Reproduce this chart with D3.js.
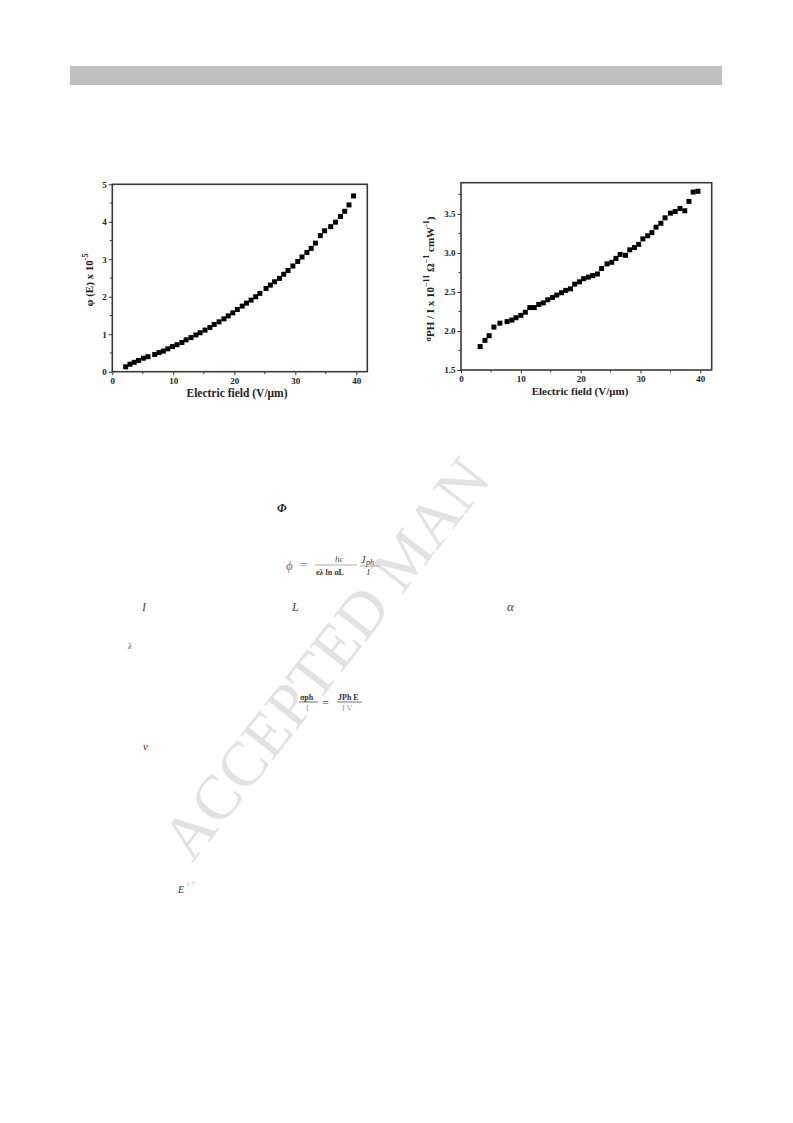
<!DOCTYPE html>
<html><head><meta charset="utf-8">
<script src="https://cdn.jsdelivr.net/npm/d3@7"></script>
<style>html,body{margin:0;padding:0;background:#fff;}</style>
</head><body>
<script>
// ---- data ----
const fieldA = [2.19,2.9,3.6,4.3,5.1,5.85,6.95,7.66,8.37,9.1,9.85,10.6,11.4,12.1,12.9,13.7,14.4,15.2,16.0,16.7,17.5,18.3,19.0,19.75,20.5,21.3,22.0,22.75,23.5,24.2,25.2,25.9,26.6,27.4,28.1,28.8,29.6,30.4,31.1,31.9,32.6,33.3,34.1,34.8,35.8,36.6,37.4,38.1,38.8,39.55];
const phiA = [0.13,0.2,0.25,0.30,0.36,0.40,0.46,0.51,0.55,0.61,0.67,0.72,0.78,0.85,0.91,0.98,1.04,1.11,1.18,1.26,1.33,1.41,1.49,1.57,1.66,1.75,1.83,1.91,2.0,2.09,2.22,2.31,2.40,2.49,2.60,2.70,2.82,2.94,3.06,3.18,3.29,3.43,3.63,3.76,3.87,3.99,4.14,4.28,4.45,4.69];
const fieldB = [3.2,4.0,4.7,5.5,6.5,7.7,8.5,9.2,10.0,10.75,11.5,12.25,13.0,13.75,14.5,15.3,16.0,16.8,17.5,18.3,19.0,19.8,20.5,21.3,22.0,22.8,23.5,24.4,25.2,25.9,26.6,27.5,28.2,29.0,29.7,30.4,31.2,31.9,32.6,33.4,34.1,35.0,35.8,36.6,37.4,38.1,38.8,39.6];
const sigmaB = [1.80,1.88,1.94,2.05,2.10,2.12,2.14,2.17,2.20,2.24,2.30,2.30,2.34,2.36,2.40,2.43,2.46,2.49,2.52,2.54,2.60,2.63,2.67,2.69,2.71,2.73,2.80,2.86,2.88,2.93,2.98,2.97,3.04,3.07,3.11,3.18,3.22,3.26,3.33,3.38,3.45,3.51,3.53,3.57,3.54,3.66,3.78,3.79];
const xTicks = [0,10,20,30,40];
const xMinor = [5,15,25,35];
const yTicksA = [0,1,2,3,4,5];
const yMinorA = [0.5,1.5,2.5,3.5,4.5];
const yTicksB = [1.5,2.0,2.5,3.0,3.5];
const yMinorB = [1.75,2.25,2.75,3.25,3.75];
const xTitle = "Electric field (V/\u03BCm)";

const W = 793, H = 1123;
const svg = d3.select("body").append("svg").attr("width", W).attr("height", H)
  .style("display","block");
svg.append("rect").attr("width",W).attr("height",H).attr("fill","#fff");

// header bar
svg.append("rect").attr("x",70).attr("y",66).attr("width",652).attr("height",19).attr("fill","#bfbfbf");

// watermark (rest of it lies under the figure)
svg.append("text")
  .attr("transform","translate(192,864) rotate(-52)")
  .attr("font-family","'Liberation Serif','Times New Roman',serif")
  .attr("font-size",63)
  .attr("fill","#e2e2e2")
  .text("ACCEPTED MAN");

// figure background (opaque)
svg.append("rect").attr("x",76).attr("y",168).attr("width",650).attr("height",236).attr("fill","#fff");

// math fragments
const mf = "'Liberation Serif','Times New Roman',serif";
function frag(x,y,t,opts={}){
  const e = svg.append("text").attr("x",x).attr("y",y).attr("font-family",mf)
    .attr("font-size",opts.size||12).attr("font-style",opts.style||"italic")
    .attr("fill",opts.fill||"#222").text(t);
  if(opts.weight) e.attr("font-weight",opts.weight);
  return e;
}
frag(277,512,"\u03A6",{weight:"bold",size:12});
frag(286,570,"\u03D5",{size:13,fill:"#777"});
frag(300,569,"=",{style:"normal",size:13,fill:"#777"});
frag(335,562,"hc",{size:9,fill:"#555"});
svg.append("line").attr("x1",315).attr("x2",357).attr("y1",565).attr("y2",565).attr("stroke","#888").attr("stroke-width",0.7);
frag(316,575,"e\u03BB ln \u03B1L",{size:8,fill:"#333",style:"normal",weight:"bold"});
frag(361,563,"J",{size:10,fill:"#333"});
frag(366,565,"ph",{size:8,fill:"#333"});
svg.append("line").attr("x1",360).attr("x2",379).attr("y1",566).attr("y2",566).attr("stroke","#888").attr("stroke-width",0.7);
frag(367,575,"I",{size:8,fill:"#333"});
frag(142,611,"I",{size:12,fill:"#444"});
frag(292,611,"L",{size:12,fill:"#444"});
frag(507,611,"\u03B1",{size:13,fill:"#444"});
frag(128,649,"\u03BB",{size:9,fill:"#555"});
frag(300,700,"\u03C3ph",{size:8,style:"normal",weight:"bold",fill:"#333"});
svg.append("line").attr("x1",299).attr("x2",318).attr("y1",702).attr("y2",702).attr("stroke","#333").attr("stroke-width",0.7);
frag(306,711,"I",{size:8,style:"normal",fill:"#999"});
frag(322,707,"=",{style:"normal",size:12,fill:"#444"});
frag(338,700,"JPh E",{size:8,style:"normal",weight:"bold",fill:"#333"});
svg.append("line").attr("x1",337).attr("x2",362).attr("y1",702).attr("y2",702).attr("stroke","#333").attr("stroke-width",0.7);
frag(342,711,"I V",{size:8,style:"normal",fill:"#999"});
frag(143,750,"v",{size:11,fill:"#5a1a1a"});
frag(178,893,"E",{size:10,fill:"#333"});
frag(186,886,"1/7",{size:7,style:"normal",fill:"#bbb"});

// ---- chart helper ----
const font = "'Liberation Serif','Times New Roman',serif";
function chart(cfg){
  const g = svg.append("g");
  const x = d3.scaleLinear().domain(cfg.xDom).range([cfg.x0,cfg.x1]);
  const y = d3.scaleLinear().domain(cfg.yDom).range([cfg.y1,cfg.y0]);
  g.selectAll(".xm").data(xMinor).join("line")
    .attr("x1",d=>x(d)).attr("x2",d=>x(d)).attr("y1",cfg.y1).attr("y2",cfg.y1+2.5)
    .attr("stroke","#333").attr("stroke-width",1);
  g.selectAll(".ym").data(cfg.yMinor).join("line")
    .attr("y1",d=>y(d)).attr("y2",d=>y(d)).attr("x1",cfg.x0).attr("x2",cfg.x0-2.5)
    .attr("stroke","#333").attr("stroke-width",1);
  const xa = g.append("g").attr("transform",`translate(0,${cfg.y1})`)
    .call(d3.axisBottom(x).tickValues(xTicks).tickSize(3.5).tickPadding(2).tickFormat(d3.format("d")));
  const ya = g.append("g").attr("transform",`translate(${cfg.x0},0)`)
    .call(d3.axisLeft(y).tickValues(cfg.yTicks).tickSize(3.5).tickPadding(2).tickFormat(cfg.yFmt));
  [xa,ya].forEach(a=>{
    a.select(".domain").remove();
    a.selectAll("line").attr("stroke","#333").attr("stroke-width",1);
    a.selectAll("text").attr("font-family",font).attr("font-weight","bold")
      .attr("font-size",9).attr("fill","#222");
  });
  g.append("rect").attr("x",cfg.x0).attr("y",cfg.y0).attr("width",cfg.x1-cfg.x0).attr("height",cfg.y1-cfg.y0)
    .attr("fill","none").attr("stroke","#3a3a3a").attr("stroke-width",1.6);
  const pts = cfg.xs.map((v,i)=>[v,cfg.ys[i]]);
  g.selectAll(".pt").data(pts).join("rect")
    .attr("x",d=>x(d[0])-2.5).attr("y",d=>y(d[1])-2.5).attr("width",5).attr("height",5).attr("fill","#000");
  g.append("text").attr("x",cfg.tx).attr("y",cfg.y1+25).attr("text-anchor","middle")
    .attr("font-family",font).attr("font-weight","bold").attr("font-size",cfg.tsize).attr("fill","#222").text(xTitle);
  return {g,x,y};
}

const c1 = chart({x0:112.3,x1:367.3,y0:184.3,y1:371.7,xDom:[0,41.8],yDom:[0,5],xs:fieldA,ys:phiA,
  yTicks:yTicksA,yMinor:yMinorA,yFmt:d3.format("d"),tx:237,tsize:11.5});
const yl1 = c1.g.append("text").attr("transform","translate(93,280) rotate(-90)").attr("text-anchor","middle")
  .attr("font-family",font).attr("font-weight","bold").attr("font-size",11).attr("fill","#222");
yl1.append("tspan").text("\u03C6 (E) x 10");
yl1.append("tspan").attr("dy",-5).attr("font-size",8).text("-5");

const c2 = chart({x0:461,x1:711.7,y0:182.7,y1:370,xDom:[0,41.9],yDom:[1.5,3.9],xs:fieldB,ys:sigmaB,
  yTicks:yTicksB,yMinor:yMinorB,yFmt:d3.format(".1f"),tx:580,tsize:11});
const yl2 = c2.g.append("text").attr("transform","translate(434,279) rotate(-90)").attr("text-anchor","middle")
  .attr("font-family",font).attr("font-weight","bold").attr("font-size",11).attr("fill","#222");
yl2.append("tspan").attr("font-size",8).attr("dy",-3).text("\u03C3");
yl2.append("tspan").attr("dy",3).text("PH");
yl2.append("tspan").text(" / I x 10");
yl2.append("tspan").attr("dy",-5).attr("font-size",8).text("\u221211");
yl2.append("tspan").attr("dy",5).text(" \u03A9");
yl2.append("tspan").attr("dy",-5).attr("font-size",8).text("\u22121");
yl2.append("tspan").attr("dy",5).text(" cmW");
yl2.append("tspan").attr("dy",-5).attr("font-size",8).text("-1");
yl2.append("tspan").attr("dy",5).text(")");
</script>
</body></html>
